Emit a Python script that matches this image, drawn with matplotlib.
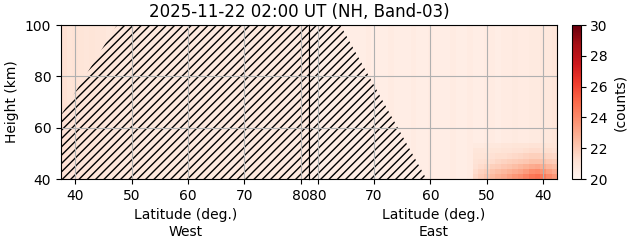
import numpy as np
import matplotlib
matplotlib.use("Agg")
import matplotlib.pyplot as plt

# Rejilla: centros de latitud (grados) e alturas (km)
lat = np.arange(38, 82)
hgt = np.arange(41, 100, 2)

# Fondo de cada lado (counts), un valor por latitude 38..81
west_base = [21.2, 21.0, 21.1, 21.0, 20.9, 21.0, 20.9, 20.9, 20.8, 20.9,
             20.8, 20.8, 20.9, 20.8, 20.8, 20.7, 20.8, 20.8, 20.7, 20.8,
             20.8, 20.7, 20.8, 20.8, 20.7, 20.8, 20.7, 20.7, 20.8, 20.7,
             20.7, 20.8, 20.7, 20.7, 20.8, 20.7, 20.7, 20.7, 20.8, 20.7,
             20.7, 20.7, 20.8, 20.7]
east_base = [20.9, 20.8, 20.8, 20.7, 20.7, 20.6, 20.6, 20.7, 20.6, 20.6,
             20.5, 20.6, 20.6, 20.5, 20.5, 20.6, 20.5, 20.5, 20.6, 20.5,
             20.5, 20.5, 20.6, 20.5, 20.5, 20.6, 20.5, 20.5, 20.5, 20.6,
             20.5, 20.5, 20.5, 20.6, 20.5, 20.5, 20.5, 20.5, 20.6, 20.5,
             20.5, 20.5, 20.5, 20.5]

# Zona quente do leste: alturas 41..53 km, latitudes 38..52
east_hot = [
    [23.6, 24.0, 24.5, 24.8, 24.6, 24.2, 23.8, 23.6, 23.3, 23.0, 22.8, 22.5, 22.2, 21.9, 21.6],
    [23.0, 23.3, 23.7, 24.0, 23.9, 23.5, 23.2, 23.0, 22.8, 22.6, 22.4, 22.2, 21.9, 21.7, 21.4],
    [22.4, 22.6, 22.9, 23.1, 23.0, 22.8, 22.6, 22.4, 22.2, 22.1, 21.9, 21.8, 21.6, 21.4, 21.2],
    [21.9, 22.0, 22.2, 22.3, 22.3, 22.1, 22.0, 21.9, 21.8, 21.7, 21.6, 21.4, 21.3, 21.2, 21.1],
    [21.5, 21.6, 21.7, 21.8, 21.8, 21.7, 21.6, 21.5, 21.4, 21.3, 21.3, 21.2, 21.1, 21.0, 21.0],
    [21.2, 21.3, 21.3, 21.4, 21.4, 21.3, 21.2, 21.2, 21.1, 21.1, 21.0, 21.0, 20.9, 20.9, 20.9],
    [21.0, 21.0, 21.1, 21.1, 21.1, 21.0, 21.0, 21.0, 20.9, 20.9, 20.8, 20.8, 20.8, 20.7, 20.7],
]

# Rexions rayadas (bordes)
west_mask_lat = [37.5, 47.4, 81.5]
west_mask_top = [64.9, 100, 100]
east_mask_lat = [81.5, 76.0, 60.7]
east_mask_top = [100, 100, 40]

west = np.tile(np.array(west_base), (len(hgt), 1))
east = np.tile(np.array(east_base), (len(hgt), 1))
hot = np.array(east_hot)
east[:hot.shape[0], :hot.shape[1]] = hot

fig = plt.figure(figsize=(6.31, 2.43), dpi=100)
axw = fig.add_axes([61 / 631, 0.263, 248.3 / 631, 0.634])
axe = fig.add_axes([309.3 / 631, 0.263, 248 / 631, 0.634])
cax = fig.add_axes([572.3 / 631, 0.263, 8.4 / 631, 0.634])

for ax, data, mlat, mtop, side in [(axw, west, west_mask_lat, west_mask_top, 'West'),
                                   (axe, east, east_mask_lat, east_mask_top, 'East')]:
    pc = ax.pcolormesh(lat, hgt, data, cmap='Reds', vmin=20, vmax=30, shading='nearest')
    ax.fill_between(mlat, 40, mtop, facecolor='none', edgecolor='k', hatch='////', linewidth=0)
    ax.set_ylim(40, 100)
    ax.set_yticks([40, 60, 80, 100])
    ax.set_xticks([40, 50, 60, 70, 80])
    ax.grid(True, color='#b0b0b0')
    ax.set_xlabel('Latitude (deg.)\n' + side)

axw.set_xlim(37.5, 81.5)
axe.set_xlim(81.5, 37.5)
axw.set_ylabel('Height (km)')
axe.tick_params(axis='y', left=False, labelleft=False)

cb = fig.colorbar(pc, cax=cax)
cb.set_ticks([20, 22, 24, 26, 28, 30])
cb.set_label('(counts)')

fig.text(299 / 631, 1 - 12 / 243, '2025-11-22 02:00 UT (NH, Band-03)',
         ha='center', va='center', fontsize=12)

fig.savefig('out.png', dpi=100)
